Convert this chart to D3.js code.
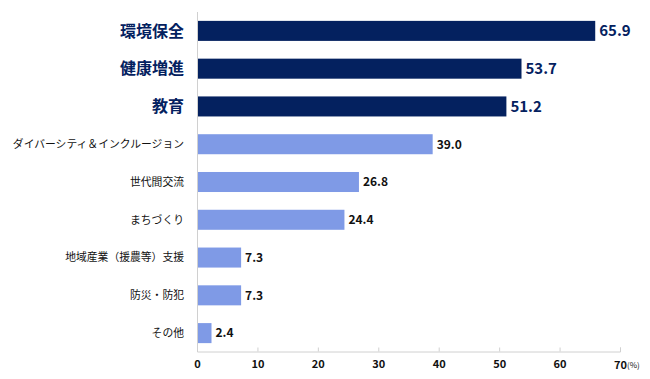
<!DOCTYPE html>
<html>
<head>
<meta charset="utf-8">
<script src="https://cdn.jsdelivr.net/npm/d3@7"></script>
<style>
  body { margin: 0; background: #fff; }
  text { font-family: "Noto Sans CJK JP", "Noto Sans", sans-serif; }
</style>
</head>
<body>
<svg id="chart" width="650" height="379"></svg>
<script>
var categories = ["環境保全", "健康増進", "教育", "ダイバーシティ＆インクルージョン", "世代間交流", "まちづくり", "地域産業（援農等）支援", "防災・防犯", "その他"];
var values = [65.9, 53.7, 51.2, 39.0, 26.8, 24.4, 7.3, 7.3, 2.4];
var highlighted = [true, true, true, false, false, false, false, false, false];
var xTicks = [0, 10, 20, 30, 40, 50, 60, 70];

var data = categories.map(function(c, i) {
  return {name: c, value: values[i], top: highlighted[i]};
});

var svg = d3.select("#chart");
var navy = "#04215f", light = "#7f9ae6";

var x = d3.scaleLinear().domain([0, 70]).range([197, 620]);
var y = d3.scaleBand().domain(categories).range([12, 352]).paddingInner(0.47).paddingOuter(0.235);

// axis line + ticks (ticks point up)
var xAxis = svg.append("g")
  .attr("transform", "translate(0,351.5)")
  .call(d3.axisBottom(x).tickValues(xTicks).tickSize(-4).tickFormat(function(d) { return d === 70 ? "" : d; }));
xAxis.select(".domain").attr("stroke", "#d0d0d0");
xAxis.selectAll(".tick line").attr("stroke", "#d0d0d0");
xAxis.selectAll(".tick text")
  .attr("y", 9).attr("font-size", 11).attr("font-weight", "bold").attr("fill", "#111");

svg.append("text")
  .attr("x", x(70) - 6).attr("y", 368.5)
  .attr("font-size", 11).attr("font-weight", "bold").attr("fill", "#111")
  .text("70");
svg.append("text")
  .attr("x", x(70) + 7).attr("y", 367.5)
  .attr("font-size", 8).attr("fill", "#111")
  .text("(%)");

// vertical axis line
svg.append("line")
  .attr("x1", x(0) + 0.5).attr("x2", x(0) + 0.5)
  .attr("y1", 12).attr("y2", 352)
  .attr("stroke", "#d0d0d0");

svg.selectAll(".bar")
  .data(data)
  .enter().append("rect")
    .attr("class", "bar")
    .attr("x", x(0) + 1)
    .attr("y", function(d) { return y(d.name); })
    .attr("width", function(d) { return x(d.value) - x(0) - 1; })
    .attr("height", y.bandwidth())
    .attr("fill", function(d) { return d.top ? navy : light; });

svg.selectAll(".cat")
  .data(data)
  .enter().append("text")
    .attr("class", "cat")
    .attr("x", 184)
    .attr("y", function(d) { return y(d.name) + y.bandwidth() / 2; })
    .attr("dy", "0.36em")
    .attr("text-anchor", "end")
    .attr("font-size", function(d) { return d.top ? 16 : 10.8; })
    .attr("font-weight", function(d) { return d.top ? "bold" : "normal"; })
    .attr("fill", function(d) { return d.top ? navy : "#111"; })
    .text(function(d) { return d.name; });

svg.selectAll(".val")
  .data(data)
  .enter().append("text")
    .attr("class", "val")
    .attr("x", function(d) { return x(d.value) + 4; })
    .attr("y", function(d) { return y(d.name) + y.bandwidth() / 2; })
    .attr("dy", "0.36em")
    .attr("font-size", function(d) { return d.top ? 15 : 12; })
    .attr("font-weight", "bold")
    .attr("fill", function(d) { return d.top ? navy : "#111"; })
    .text(function(d) { return d.value.toFixed(1); });
</script>
</body>
</html>
